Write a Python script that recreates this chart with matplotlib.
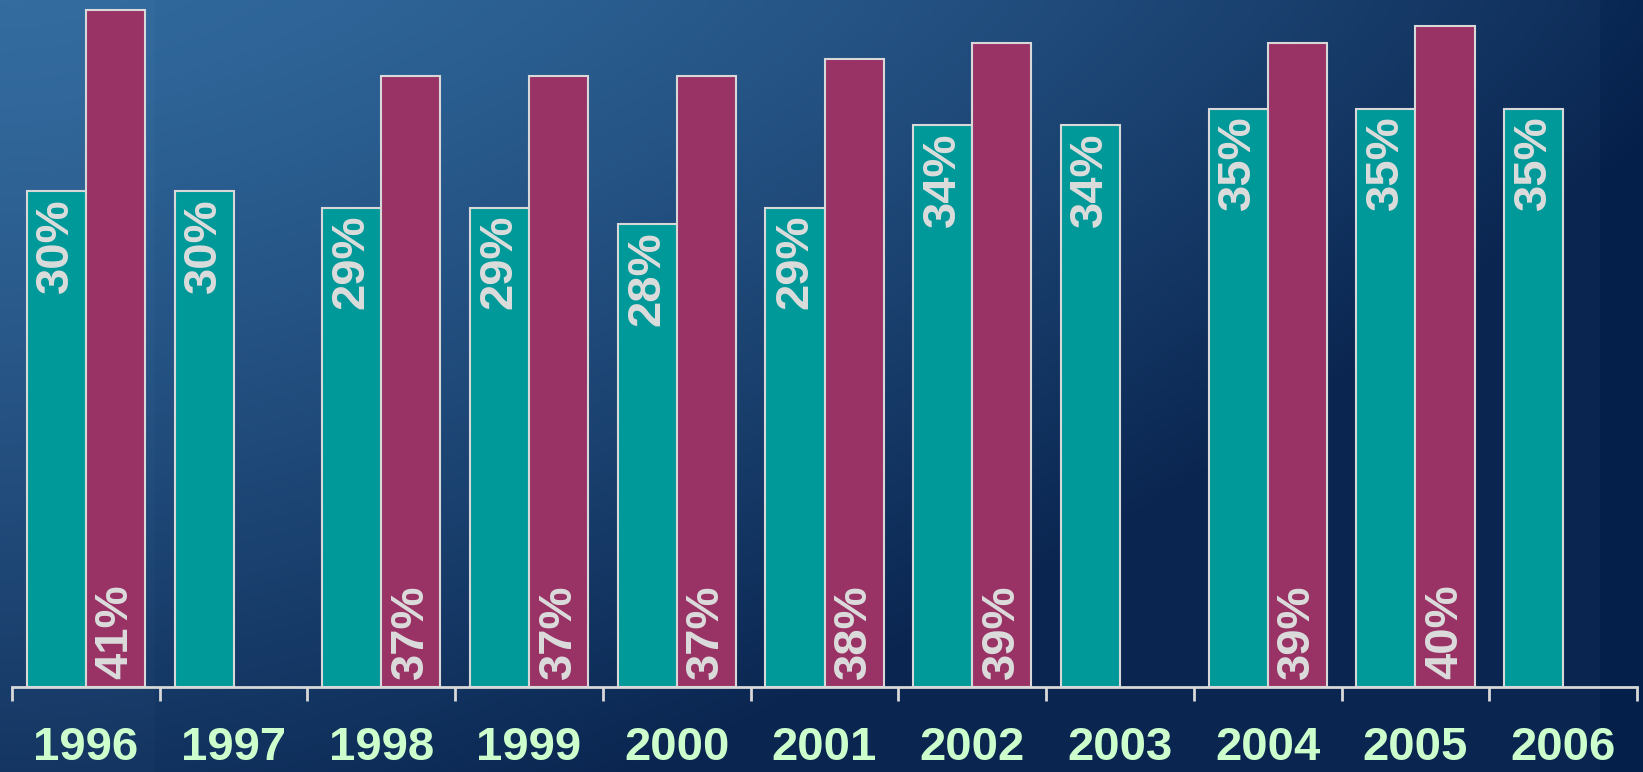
import numpy as np
import matplotlib
matplotlib.use("Agg")
import matplotlib.pyplot as plt
from matplotlib.colors import to_rgb

years = ["1996", "1997", "1998", "1999", "2000", "2001", "2002", "2003", "2004", "2005", "2006"]
teal_vals = [30, 30, 29, 29, 28, 29, 34, 34, 35, 35, 35]
maroon_vals = [41, None, 37, 37, 37, 38, 39, None, 39, 40, None]

TEAL = "#009999"
MAROON = "#993366"
EDGE = "#d8d8d8"
LABEL = "#dcdcdc"
YEAR_COLOR = "#ccffcc"
FONT = ["Liberation Sans", "DejaVu Sans"]

W, H = 1643, 772
fig = plt.figure(figsize=(W / 100, H / 100), dpi=100)

# background gradient
bg = fig.add_axes([0, 0, 1, 1])
bg.set_axis_off()
yy, xx = np.mgrid[0:H, 0:W]
t = np.clip(0.9 * (xx / W) ** 1.6 + 0.8 * (yy / H) ** 1.2, 0, 1)
c0 = np.array(to_rgb("#31699d"))
c1 = np.array(to_rgb("#0a2550"))
img = c0[None, None, :] * (1 - t[..., None]) + c1[None, None, :] * t[..., None]
img[:, :155, :] = np.clip(img[:, :155, :] + 0.012, 0, 1)
img[:, 1600:, :] = np.clip(img[:, 1600:, :] - 0.02, 0, 1)
bg.imshow(img, extent=[0, 1, 0, 1], aspect="auto", origin="upper")
bg.set_xlim(0, 1)
bg.set_ylim(0, 1)

axis_y_px = 687
px_per_pct = 16.52
ax = fig.add_axes([12 / W, (H - axis_y_px) / H, (1637 - 12) / W, axis_y_px / H])
ax.patch.set_alpha(0)
n = len(years)
x = np.arange(n)
bw = 0.4
ax.set_xlim(-0.5, n - 0.5)
ax.set_ylim(0, axis_y_px / px_per_pct)

for i, v in enumerate(teal_vals):
    if v is None:
        continue
    ax.bar(x[i] - bw / 2, v, width=bw, color=TEAL, edgecolor=EDGE, linewidth=1.5, zorder=3)
    ax.annotate(f"{v}%", xy=(x[i] - bw / 2, v), xytext=(0, -5), textcoords="offset points",
                rotation=90, ha="center", va="top", fontsize=34, fontweight="bold",
                color=LABEL, family=FONT, zorder=4)
for i, v in enumerate(maroon_vals):
    if v is None:
        continue
    ax.bar(x[i] + bw / 2, v, width=bw, color=MAROON, edgecolor=EDGE, linewidth=1.5, zorder=3)
    ax.annotate(f"{v}%", xy=(x[i] + bw / 2, 0), xytext=(0, 6), textcoords="offset points",
                rotation=90, ha="center", va="bottom", fontsize=34, fontweight="bold",
                color=LABEL, family=FONT, zorder=4)

for s in ["top", "right", "left"]:
    ax.spines[s].set_visible(False)
ax.spines["bottom"].set_color(EDGE)
ax.spines["bottom"].set_linewidth(2)
ax.spines["bottom"].set_zorder(5)
ax.set_yticks([])
ax.set_xticks(np.arange(n + 1) - 0.5)
ax.set_xticklabels([])
ax.tick_params(axis="x", length=10, width=2, color=EDGE, direction="out")
ax.set_xticks(x, minor=True)
ax.set_xticklabels(years, minor=True)
ax.tick_params(axis="x", which="minor", length=0, pad=28, labelsize=34,
               labelcolor=YEAR_COLOR)
for lab in ax.get_xticklabels(minor=True):
    lab.set_fontweight("bold")
    lab.set_family(FONT)

fig.savefig("out.png", dpi=100)
